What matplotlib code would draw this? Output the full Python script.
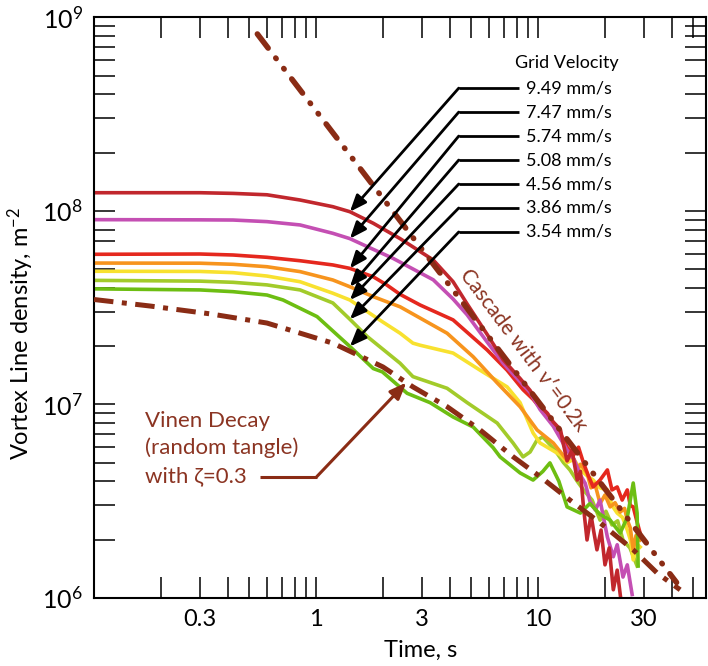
import numpy as np
import matplotlib
matplotlib.use("Agg")
import matplotlib.pyplot as plt
from matplotlib.ticker import (FixedLocator, FixedFormatter, LogLocator,
                               LogFormatterMathtext, NullFormatter)

plt.rcParams["font.family"] = ["Lato", "DejaVu Sans"]
plt.rcParams["mathtext.fontset"] = "custom"
plt.rcParams["mathtext.rm"] = "Lato"
plt.rcParams["mathtext.it"] = "Lato:italic"

# ---- data (time in s, line density in units of 1e6 m^-2) ----
t_949 = [0.1, 0.3, 0.423, 0.601, 0.847, 1.19, 1.42, 1.81, 2.39, 3.37, 4.14, 4.79, 5.89, 6.96,
         8.29, 9.2, 10.2, 11.0, 11.7, 12.6, 13.0, 13.5, 14.2, 15.0, 15.5, 16.0, 16.6, 17.3, 17.8,
         18.4, 19.2, 20.0, 20.9, 21.8, 22.7, 23.6]
L_949 = [124, 124, 123, 121, 113.7, 105, 98.9, 86.2, 71.8, 55.7, 43, 33, 23, 17,
         13.6, 11.8, 9.8, 9.0, 8.1, 7.4, 6.2, 5.1, 5.8, 4.06, 4.5, 2.95, 1.99, 2.68, 2.2,
         1.77, 2.24, 1.48, 1.81, 1.10, 1.39, 0.97]

t_747 = [0.1, 0.3, 0.423, 0.601, 0.847, 1.19, 1.42, 1.70, 2.22, 3.37, 4.14, 4.79, 5.89, 6.96,
         8.29, 9.2, 10.2, 11.7, 13.5, 14.5, 15.5, 16.3, 17.1, 18.1, 19.0, 20.5, 21.8, 22.7, 24.1,
         25.2, 26.5]
L_747 = [90, 89.8, 89.6, 87.9, 84.5, 76.5, 71.8, 65.3, 56.8, 44, 35, 29, 21, 16.3,
         13.1, 11.5, 9.4, 7.7, 5.8, 5.2, 4.3, 3.9, 3.16, 2.84, 3.2, 2.06, 1.63, 1.88, 1.28,
         1.48, 1.04]

t_574 = [0.1, 0.3, 0.423, 0.601, 0.847, 1.19, 1.42, 1.81, 2.08, 2.39, 2.94, 4.14, 5.89, 7.25,
         8.55, 9.5, 11.0, 12.2, 13.5, 14.5, 15.2, 16.0, 16.8, 17.7, 19.0, 20.5, 21.5, 22.7, 23.9,
         25.2, 26.0, 26.8, 27.8, 28.8]
L_574 = [59.6, 59.8, 59.1, 57.5, 55.2, 52.5, 50.4, 45.6, 41.4, 37.0, 32.6, 27.3, 19.1, 15.0,
         11.9, 10.6, 8.6, 7.6, 6.0, 5.5, 6.0, 4.98, 4.3, 3.74, 4.06, 4.58, 3.61, 3.74, 3.2,
         3.61, 3.0, 2.95, 2.5, 2.16]

t_508 = [0.1, 0.3, 0.423, 0.601, 0.847, 1.19, 1.42, 1.81, 2.39, 3.89, 5.10, 6.54, 8.29, 9.89,
         11.7, 13.5, 14.2, 15.0, 15.5, 16.6, 17.3, 18.0, 19.0, 20.0, 21.1, 22.2, 23.4, 24.5,
         25.2, 26.0, 26.8, 27.6, 28.8]
L_508 = [53.7, 53.6, 52.9, 51.4, 48.5, 43.9, 40.5, 36.0, 31.9, 23.3, 17.6, 12.9, 9.72, 7.37,
         6.31, 5.14, 5.5, 4.6, 4.9, 4.42, 3.7, 3.9, 3.07, 3.4, 2.95, 3.1, 2.77, 2.9,
         2.52, 2.3, 1.77, 2.1, 1.99]

t_456 = [0.1, 0.3, 0.423, 0.601, 0.847, 1.19, 1.42, 1.99, 2.39, 2.73, 2.94, 4.14, 5.48, 7.25,
         8.29, 9.49, 10.2, 12.6, 13.5, 14.5, 15.5, 16.5, 17.7, 19.0, 20.5, 21.5, 22.7, 24.0,
         25.2, 26.0, 26.8, 27.8, 28.8]
L_456 = [48.7, 48.6, 47.9, 46.0, 43.0, 37.5, 34.6, 26.7, 23.3, 20.7, 20.2, 18.4, 15.0, 12.3,
         10.2, 7.11, 6.31, 5.47, 5.0, 5.2, 4.58, 4.3, 4.06, 3.7, 3.61, 3.0, 2.74, 2.6,
         2.24, 2.0, 1.57, 1.9, 1.83]

t_386 = [0.1, 0.3, 0.423, 0.601, 0.847, 1.19, 1.42, 1.70, 2.39, 2.73, 3.89, 4.79, 6.54, 7.71,
         8.55, 9.2, 9.89, 10.5, 11.9, 13.0, 13.9, 15.0, 16.0, 17.5, 19.0, 20.2, 21.5, 22.8,
         24.1, 25.9, 27.9]
L_386 = [43.7, 43.3, 42.7, 41.4, 39.0, 33.4, 27.5, 22.4, 16.3, 13.9, 12.1, 10.2, 8.0, 6.31,
         5.35, 5.67, 6.54, 6.78, 5.8, 5.0, 4.58, 4.0, 3.61, 3.2, 2.52, 2.8, 2.38, 2.5,
         1.99, 1.81, 1.46]

t_354 = [0.1, 0.3, 0.423, 0.601, 0.71, 1.01, 1.42, 1.81, 1.99, 2.57, 3.26, 4.14, 5.10, 6.27,
         6.74, 8.29, 9.49, 10.5, 11.3, 12.4, 13.5, 15.5, 17.1, 19.0, 21.1, 23.4, 25.2, 26.8,
         27.9, 28.2]
L_354 = [39.5, 39.0, 38.2, 36.7, 34.6, 28.4, 19.9, 15.3, 14.7, 11.4, 10.2, 8.6, 7.63, 5.97,
         5.35, 4.42, 4.06, 4.5, 4.98, 4.0, 2.95, 2.74, 3.07, 2.7, 2.52, 2.16, 2.6, 3.92,
         2.74, 1.46]

t_vinen = [0.1, 0.179, 0.336, 0.601, 1.19, 2.00, 2.73, 3.89, 5.48, 7.71, 10.2, 13.9, 19.0, 26.8,
           34.4, 43.6]
L_vinen = [34.8, 32.2, 29.3, 26.3, 20.7, 15.6, 12.3, 9.72, 7.37, 5.36, 4.23, 3.20, 2.44, 1.77,
           1.34, 1.10]

t_cascade = [0.544, 42.0]
L_cascade = [820, 1.2]

velocities = ["9.49 mm/s", "7.47 mm/s", "5.74 mm/s", "5.08 mm/s", "4.56 mm/s", "3.86 mm/s", "3.54 mm/s"]
series = [(t_949, L_949), (t_747, L_747), (t_574, L_574), (t_508, L_508),
          (t_456, L_456), (t_386, L_386), (t_354, L_354)]
colors = ["#C1272D", "#C44FB3", "#E5281E", "#F7941D", "#F8E12F", "#A2CB2A", "#6DBE12"]
draw_order = [5, 4, 3, 2, 1, 0, 6]

BROWN = "#8A2C15"
TEXT_BROWN = "#8B3422"

fig = plt.figure(figsize=(7.08, 6.66), dpi=100)
ax = fig.add_axes([94 / 708, 1 - 597.8 / 666, 612 / 708, 580.5 / 666])

for i in draw_order:
    t, L = series[i]
    ax.plot(t, np.array(L) * 1e6, color=colors[i], lw=2.6, solid_joinstyle="round", zorder=2)

ax.plot(t_vinen, np.array(L_vinen) * 1e6, color=BROWN, lw=3.6,
        dashes=(3.9, 1.7, 1.0, 1.7), dash_capstyle="butt", zorder=3)
ax.plot(t_cascade, np.array(L_cascade) * 1e6, color=BROWN, lw=4.0,
        dashes=(3.2, 2.25, 0.12, 2.25, 0.12, 2.25), dash_capstyle="round", zorder=3)

ax.set_xscale("log")
ax.set_yscale("log")
ax.set_xlim(0.1, 57)
ax.set_ylim(1e6, 1e9)

ax.xaxis.set_major_locator(FixedLocator([0.3, 1, 3, 10, 30]))
ax.xaxis.set_major_formatter(FixedFormatter(["0.3", "1", "3", "10", "30"]))
ax.xaxis.set_minor_locator(LogLocator(base=10, subs=np.arange(1, 10)))
ax.xaxis.set_minor_formatter(NullFormatter())
ax.yaxis.set_major_locator(LogLocator(base=10))
ax.yaxis.set_major_formatter(LogFormatterMathtext())
ax.yaxis.set_minor_locator(LogLocator(base=10, subs=np.arange(2, 10)))
ax.yaxis.set_minor_formatter(NullFormatter())

ax.tick_params(which="both", direction="in", length=15, width=1.1, top=True, right=True, color="black")
ax.tick_params(axis="x", which="major", labelsize=17, pad=8)
ax.tick_params(axis="y", which="major", labelsize=18, pad=8)
for sp in ax.spines.values():
    sp.set_linewidth(1.5)

ax.set_xlabel("Time, s", fontsize=17)
ax.xaxis.set_label_coords(0.534, -0.073)
ax.set_ylabel("Vortex Line density, m$^{\\mathdefault{-2}}$", fontsize=17)
ax.yaxis.set_label_coords(-0.095, 0.456)

# grid velocity labels with leader arrows
ax.text(0.772, 0.921, "Grid Velocity", transform=ax.transAxes, fontsize=13,
        ha="center", va="center")
t_tip = 1.42
for i, label in enumerate(velocities):
    row_y = 0.878 - i * 0.0413
    t, L = series[i]
    L_tip = 10 ** np.interp(np.log10(t_tip), np.log10(t), np.log10(np.array(L) * 1e6))
    ax.plot([0.596, 0.694], [row_y, row_y], transform=ax.transAxes, color="black",
            lw=2.0, solid_capstyle="butt", zorder=5)
    ax.annotate("", xy=(t_tip, L_tip), xycoords="data", xytext=(0.596, row_y),
                textcoords="axes fraction",
                arrowprops=dict(arrowstyle="-|>,head_length=1.0,head_width=0.4",
                                mutation_scale=10, lw=2.0, color="black",
                                shrinkA=0, shrinkB=0), zorder=5)
    ax.text(0.706, row_y, label, transform=ax.transAxes, fontsize=13, ha="left", va="center")

# Vinen decay annotation
for text, yy in zip(["Vinen Decay", "(random tangle)", "with ζ=0.3"], [0.3046, 0.258, 0.2087]):
    ax.text(0.0833, yy, text, transform=ax.transAxes, fontsize=16, color=TEXT_BROWN,
            ha="left", va="center")
ax.plot([0.272, 0.364], [0.2087, 0.2087], transform=ax.transAxes, color=BROWN, lw=2.2,
        solid_capstyle="butt", zorder=5)
t_v = 2.55
L_v = 10 ** np.interp(np.log10(t_v), np.log10(t_vinen), np.log10(np.array(L_vinen) * 1e6))
ax.annotate("", xy=(t_v, L_v), xycoords="data", xytext=(0.364, 0.2087),
            textcoords="axes fraction",
            arrowprops=dict(arrowstyle="-|>,head_length=1.0,head_width=0.4",
                            mutation_scale=10, lw=2.2, color=BROWN, shrinkA=0, shrinkB=0),
            zorder=5)

ax.text(8.56, 1.91e7, "Cascade with ν′=0.2κ", fontsize=15, color=TEXT_BROWN,
        rotation=-53, rotation_mode="anchor", ha="center", va="center")

fig.savefig("out.png", dpi=100)
